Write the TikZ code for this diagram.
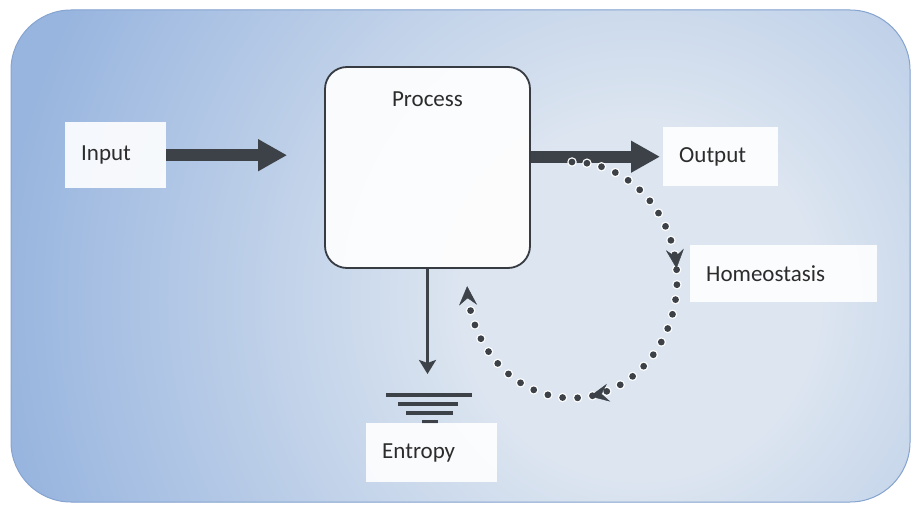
\documentclass[tikz,border=0pt]{standalone}
\usepackage{fontspec}
\setmainfont{Carlito}
\usetikzlibrary{arrows.meta,decorations.markings}
\definecolor{arrowgray}{HTML}{3D4249}
\definecolor{txtgray}{HTML}{2C2C2C}
\definecolor{panelblue}{HTML}{98B5DF}
\definecolor{panellight}{HTML}{DCE5F0}
\definecolor{paneledge}{HTML}{86A4D0}
\pgfdeclareradialshading{panelglow}{\pgfpoint{0bp}{0bp}}{color(0bp)=(panellight); color(7bp)=(panellight); color(25bp)=(panelblue); color(50bp)=(panelblue)}
\tikzset{looptip/.tip={Stealth[length=19pt,width=18pt,inset=7pt]}}
\begin{document}
\begin{tikzpicture}[x=1pt,y=-1pt,
  lbl/.style={font=\fontsize{23}{27}\selectfont, text=txtgray},
  whitebox/.style={lbl, fill=white, fill opacity=0.9, text opacity=1, inner xsep=16pt, inner ysep=0pt, align=left, anchor=north west},
  processbox/.style={draw=arrowgray!90!black, line width=1.8pt, fill=white, fill opacity=0.92, rounded corners=22pt, minimum width=205pt, minimum height=201pt, inner sep=0pt},
  bigarrow/.style={arrowgray, line width=12pt, -{Triangle[length=29pt,width=30pt]}},
  thinarrow/.style={arrowgray, line width=3pt, -{Stealth[length=14pt,width=17pt,inset=3pt]}},
  groundline/.style={arrowgray, line width=4pt},
  dotsbase/.style={line width=9.5pt, white, line cap=round, dash pattern=on 0pt off 15pt},
  dotsfront/.style={line width=6.8pt, arrowgray, line cap=round, dash pattern=on 0pt off 15pt}
]
\useasboundingbox (0,0) rectangle (912,505);
\fill[white] (0,0) rectangle (912,505);
% panel
\begin{scope}
  \clip[rounded corners=60pt] (11,10) rectangle (910,502);
  \fill[panelblue] (0,0) rectangle (912,505);
  \shade[shading=panelglow] (640,300) circle (640);
\end{scope}
\draw[paneledge, line width=1pt, rounded corners=60pt] (11,10) rectangle (910,502);

% boxes
\node[processbox, label={[lbl,anchor=center,yshift=-33pt]north:Process}] (process) at (427.5,167.5) {};
\node[whitebox, text width=69pt, minimum height=66pt] (input) at (65,122) {Input};
\node[whitebox, text width=83pt, minimum height=59pt] (output) at (663,127) {Output};
\node[whitebox, text width=155pt, minimum height=57pt] (homeo) at (690,245) {Homeostasis};

% main arrows
\draw[bigarrow, shorten >=37pt] (input.east) -- (input.east -| process.west);
\draw[bigarrow, shorten >=3pt] (process.east |- output.west) -- (output.west);

% entropy arrow and ground
\coordinate (entr) at (427.5,374);
\draw[thinarrow] (process.south) -- (entr);
\coordinate (gnd) at (429,395);
\draw[groundline] (gnd) ++(-43,0) -- ++(86,0);
\draw[groundline] (gnd) ++(-31,9) -- ++(60,0);
\draw[groundline] (gnd) ++(-23,18) -- ++(47,0);
\draw[groundline] (gnd) ++(-7,27) -- ++(16,0);
\node[whitebox, text width=99pt, minimum height=59pt] (entropy) at (366,423) {Entropy};

% homeostasis feedback loop
\coordinate (hstart) at (572,162);
\draw[dotsbase] (hstart) arc[start angle=-90, end angle=170, x radius=105, y radius=118];
\draw[dotsfront] (hstart) arc[start angle=-90, end angle=170, x radius=105, y radius=118];
\path[arrowgray, postaction={decorate}, decoration={markings,
   mark=at position 0.315 with {\arrow{looptip}},
   mark=at position 0.64 with {\arrow{looptip}},
   mark=at position 1 with {\arrow{looptip}}}]
   (hstart) arc[start angle=-90, end angle=177, x radius=105, y radius=118];
\end{tikzpicture}
\end{document}
